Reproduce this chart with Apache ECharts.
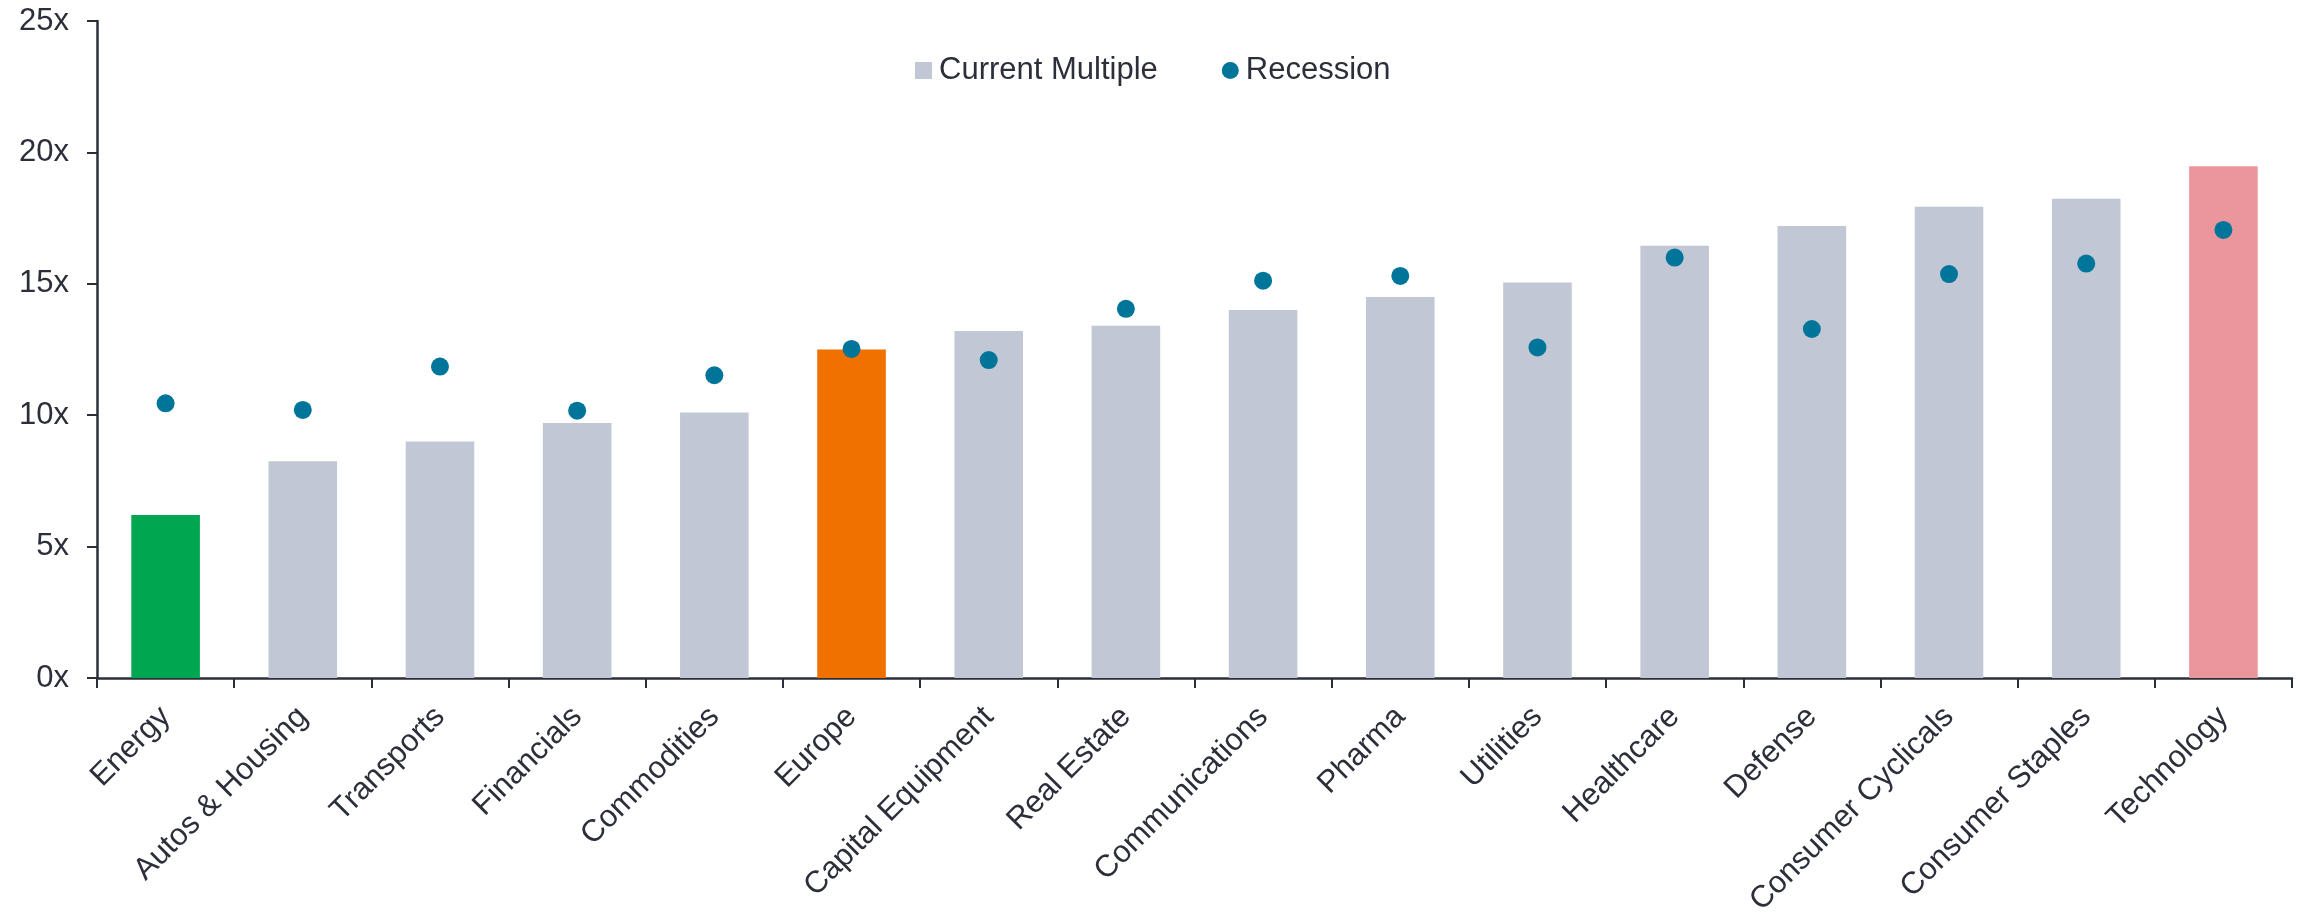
<!DOCTYPE html>
<html>
<head>
<meta charset="utf-8">
<script src="https://cdn.jsdelivr.net/npm/echarts@6/dist/echarts.min.js"></script>
<style>
html,body{margin:0;padding:0;background:#fff;}
#chart{width:2306px;height:914px;}
</style>
</head>
<body>
<div id="chart"></div>
<script>
const categories = ['Energy','Autos & Housing','Transports','Financials','Commodities','Europe','Capital Equipment','Real Estate','Communications','Pharma','Utilities','Healthcare','Defense','Consumer Cyclicals','Consumer Staples','Technology'];
const currentMultiple = [6.2, 8.25, 9.0, 9.7, 10.1, 12.5, 13.2, 13.4, 14.0, 14.5, 15.05, 16.45, 17.2, 17.93, 18.24, 19.47];
const recession = [10.45, 10.2, 11.85, 10.17, 11.52, 12.52, 12.1, 14.05, 15.12, 15.3, 12.58, 16.0, 13.28, 15.37, 15.77, 17.05];
const yTicks = [0, 5, 10, 15, 20, 25];

const barColor = '#C1C7D5';
const highlightColors = {'Energy': '#00A650', 'Europe': '#F07000', 'Technology': '#EB959D'};
const dotColor = '#00759A';
const textColor = '#2B2F3A';
const fontFamily = '"Liberation Sans", Arial, sans-serif';

const chart = echarts.init(document.getElementById('chart'));
chart.setOption({
  animation: false,
  backgroundColor: '#fff',
  textStyle: {fontFamily: fontFamily, color: textColor},
  legend: {
    top: 50,
    left: 910,
    itemWidth: 17,
    itemHeight: 17,
    itemGap: 64,
    textStyle: {fontSize: 31, color: textColor, fontFamily: fontFamily, padding: [0,0,0,2]},
    data: [
      {name: 'Current Multiple', icon: 'rect', itemStyle: {color: barColor}},
      {name: 'Recession', icon: 'circle', itemStyle: {color: dotColor}}
    ]
  },
  grid: {left: 97, right: 14, top: 21, bottom: 236, containLabel: false, outerBoundsMode: 'none'},
  xAxis: {
    type: 'category',
    data: categories,
    boundaryGap: true,
    axisLine: {show: true, lineStyle: {color: textColor, width: 2.5}},
    axisTick: {show: true, length: 10, lineStyle: {color: textColor, width: 2}},
    axisLabel: {rotate: 45, fontSize: 31, color: textColor, margin: 34, interval: 0, fontFamily: fontFamily}
  },
  yAxis: {
    type: 'value',
    min: yTicks[0],
    max: yTicks[yTicks.length - 1],
    interval: 5,
    splitLine: {show: false},
    axisLine: {show: true, lineStyle: {color: textColor, width: 2.5}},
    axisTick: {show: true, length: 10, inside: false, lineStyle: {color: textColor, width: 2}},
    axisLabel: {fontSize: 31, color: textColor, margin: 28, formatter: '{value}x', fontFamily: fontFamily}
  },
  series: [
    {
      name: 'Current Multiple',
      type: 'bar',
      barWidth: '50%',
      itemStyle: {color: barColor},
      data: currentMultiple.map((v, i) => ({
        value: v,
        itemStyle: {color: highlightColors[categories[i]] || barColor}
      })),
      z: 2
    },
    {
      name: 'Recession',
      type: 'scatter',
      symbol: 'circle',
      symbolSize: 18,
      itemStyle: {color: dotColor, opacity: 1},
      data: recession,
      z: 3
    }
  ]
});
</script>
</body>
</html>
